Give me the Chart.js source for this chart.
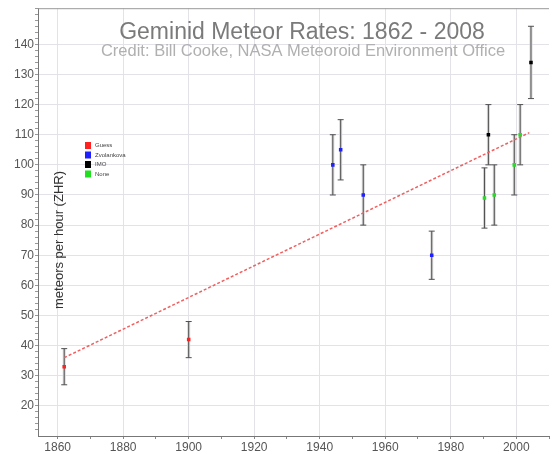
<!DOCTYPE html>
<html>
<head>
<meta charset="utf-8">
<script src="https://cdn.jsdelivr.net/npm/chart.js@4/dist/chart.umd.min.js"></script>
<style>
  html, body { margin: 0; padding: 0; background: #fff; }
  #wrap { width: 553px; height: 454px; }
</style>
</head>
<body>
<div id="wrap"><canvas id="chart"></canvas></div>
<script>
// data
const guessYears = [1862, 1900];
const guessZhr = [33, 42];
const guessLow = [27, 36];
const guessHigh = [39, 48];

const zvolYears = [1944, 1946.4, 1953.3, 1974.2];
const zvolZhr = [100, 105, 90, 70];
const zvolLow = [90, 95, 80, 62];
const zvolHigh = [110, 115, 100, 78];

const imoYears = [1991.5, 2004.5];
const imoZhr = [110, 134];
const imoLow = [100, 122];
const imoHigh = [120, 146];

const noneYears = [1990.3, 1993.3, 1999.4, 2001.2];
const noneZhr = [89, 90, 100, 110];
const noneLow = [79, 80, 90, 100];
const noneHigh = [99, 100, 110, 120];

const trendYears = [1862, 2004];
const trendZhr = [36, 110.7];

const yTickLabels = [20, 30, 40, 50, 60, 70, 80, 90, 100, 110, 120, 130, 140];
const xTickLabels = [1860, 1880, 1900, 1920, 1940, 1960, 1980, 2000];

const groups = [
    { label: "Guess", color: "#ff2020", years: guessYears, zhr: guessZhr, low: guessLow, high: guessHigh },
    { label: "Zvolankova", color: "#2020ff", years: zvolYears, zhr: zvolZhr, low: zvolLow, high: zvolHigh },
    { label: "IMO", color: "#000000", years: imoYears, zhr: imoZhr, low: imoLow, high: imoHigh },
    { label: "None", color: "#20e020", years: noneYears, zhr: noneZhr, low: noneLow, high: noneHigh },
];

function toPoints(xs, ys) {
    return xs.map((x, i) => ({ x: x, y: ys[i] }));
}

const datasets = groups.map(g => ({
    type: "scatter",
    label: g.label,
    data: toPoints(g.years, g.zhr),
    backgroundColor: g.color,
    borderColor: g.color,
    pointStyle: "rect",
    pointRadius: 2.5,
    borderWidth: 0,
    order: 1,
}));

datasets.push({
    type: "line",
    label: "trend",
    data: toPoints(trendYears, trendZhr),
    borderColor: "#f06060",
    borderWidth: 1.5,
    borderDash: [3, 2],
    pointRadius: 0,
    fill: false,
    order: 2,
});

const decorations = {
    id: "decorations",
    beforeDatasetsDraw(chart) {
        const ctx = chart.ctx;
        const xs = chart.scales.x, ys = chart.scales.y;
        ctx.save();
        groups.forEach(g => {
            g.years.forEach((yr, i) => {
                const x = xs.getPixelForValue(yr);
                const y1 = ys.getPixelForValue(g.low[i]);
                const y2 = ys.getPixelForValue(g.high[i]);
                ctx.strokeStyle = "#d8d8d8";
                ctx.lineWidth = 3;
                ctx.beginPath();
                ctx.moveTo(x, y1); ctx.lineTo(x, y2);
                ctx.stroke();
                ctx.strokeStyle = "#505050";
                ctx.lineWidth = 1;
                ctx.beginPath();
                ctx.moveTo(x, y1); ctx.lineTo(x, y2);
                ctx.moveTo(x - 3, y1); ctx.lineTo(x + 3, y1);
                ctx.moveTo(x - 3, y2); ctx.lineTo(x + 3, y2);
                ctx.stroke();
            });
        });
        ctx.restore();
    },
    afterDraw(chart) {
        const ctx = chart.ctx;
        const area = chart.chartArea;
        ctx.save();
        // top border
        ctx.strokeStyle = "#999";
        ctx.lineWidth = 1;
        ctx.beginPath();
        ctx.moveTo(area.left, area.top + 0.5);
        ctx.lineTo(area.right, area.top + 0.5);
        ctx.stroke();

        // titles
        ctx.textAlign = "center";
        ctx.textBaseline = "alphabetic";
        ctx.fillStyle = "#7a7a7a";
        ctx.font = "23px 'Liberation Sans', Arial, sans-serif";
        ctx.fillText("Geminid Meteor Rates: 1862 - 2008", 302, 39);
        ctx.fillStyle = "#b0b0b0";
        ctx.font = "16.5px 'Liberation Sans', Arial, sans-serif";
        ctx.fillText("Credit: Bill Cooke, NASA Meteoroid Environment Office", 303, 56);

        // y axis title inside the plot
        ctx.save();
        ctx.translate(59, 240);
        ctx.rotate(-Math.PI / 2);
        ctx.fillStyle = "#333";
        ctx.font = "13px 'Liberation Sans', Arial, sans-serif";
        ctx.textBaseline = "middle";
        ctx.fillText("meteors per hour (ZHR)", 0, 0);
        ctx.restore();

        // legend
        ctx.textAlign = "left";
        ctx.textBaseline = "middle";
        ctx.font = "6px 'Liberation Sans', Arial, sans-serif";
        groups.forEach((g, i) => {
            const y = 145 + i * 9.5;
            ctx.fillStyle = g.color;
            ctx.fillRect(85, y - 3, 6, 7);
            ctx.fillStyle = "#444";
            ctx.fillText(g.label, 95, y + 0.5);
        });
        ctx.restore();
    }
};

new Chart(document.getElementById("chart").getContext("2d"), {
    data: { datasets: datasets },
    options: {
        responsive: true,
        maintainAspectRatio: false,
        animation: false,
        layout: { padding: { top: 7, right: -1, left: 0, bottom: 0 } },
        plugins: {
            legend: { display: false },
            title: { display: false },
            tooltip: { enabled: false },
        },
        scales: {
            x: {
                type: "linear",
                min: 1854,
                max: 2010,
                afterBuildTicks(scale) {
                    const t = [];
                    for (let v = 1860; v <= 2010; v += 10) t.push({ value: v });
                    scale.ticks = t;
                },
                afterFit(scale) { scale.height = 18; },
                ticks: {
                    autoSkip: false,
                    maxRotation: 0,
                    padding: 1,
                    color: "#555",
                    font: { family: "'Liberation Sans', Arial, sans-serif", size: 12 },
                    callback: v => xTickLabels.includes(v) ? String(v) : "",
                },
                grid: {
                    color: c => (c.tick && xTickLabels.includes(c.tick.value)) ? "#e2e2e8" : "rgba(0,0,0,0)",
                    tickColor: "#888",
                    tickLength: 3,
                    drawTicks: true,
                },
                border: { display: true, color: "#777", width: 1 },
            },
            y: {
                type: "linear",
                min: 10,
                max: 152,
                afterBuildTicks(scale) {
                    const t = [];
                    for (let v = 12; v <= 152; v += 2) t.push({ value: v });
                    scale.ticks = t;
                },
                afterFit(scale) { scale.width = 38; },
                ticks: {
                    autoSkip: false,
                    padding: 1,
                    color: "#555",
                    font: { family: "'Liberation Sans', Arial, sans-serif", size: 12 },
                    callback: v => yTickLabels.includes(v) ? String(v) : "",
                },
                grid: {
                    color: c => (c.tick && yTickLabels.includes(c.tick.value)) ? "#e2e2e8" : "rgba(0,0,0,0)",
                    tickColor: "#999",
                    tickLength: 3,
                    drawTicks: true,
                },
                border: { display: true, color: "#777", width: 1 },
            },
        },
    },
    plugins: [decorations],
});
</script>
</body>
</html>
